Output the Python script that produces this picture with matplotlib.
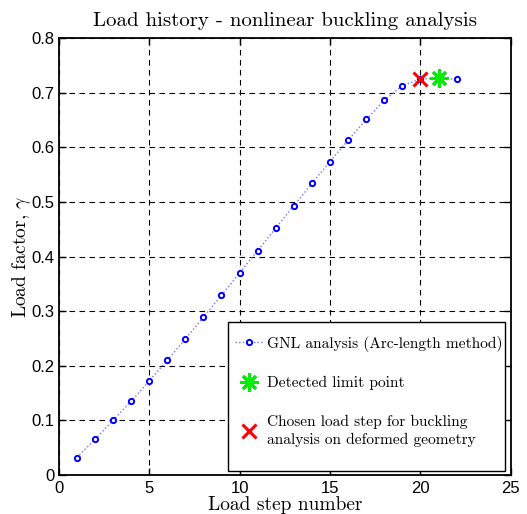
import numpy as np
import matplotlib
matplotlib.use('Agg')
import matplotlib.pyplot as plt
from matplotlib.patches import Rectangle

plt.rcParams['mathtext.fontset'] = 'cm'
plt.rcParams['axes.formatter.use_mathtext'] = True

# load steps and load factors
steps = [1, 2, 3, 4, 5, 6, 7, 8, 9, 10, 11, 12, 13, 14, 15, 16, 17, 18, 19, 20, 21, 22]
gamma = [0.032, 0.065, 0.100, 0.135, 0.172, 0.210, 0.249, 0.289, 0.329, 0.370,
         0.411, 0.452, 0.493, 0.534, 0.574, 0.613, 0.651, 0.686, 0.713, 0.725,
         0.726, 0.725]
limit_step = [21]
limit_gamma = [0.727]
chosen_step = [20]
chosen_gamma = [0.725]

serif = 'cmr10'
tickfont = 'Liberation Sans'

fig = plt.figure(figsize=(5.27, 5.14), dpi=100)
ax = fig.add_axes([0.1114, 0.0759, 0.858, 0.850])

ax.plot(steps, gamma, linestyle=':', color='#7070ff', lw=1.0,
        marker='o', markersize=3.8, markerfacecolor='white',
        markeredgecolor='#0000ff', markeredgewidth=1.4,
        label='GNL analysis (Arc-length method)')
ax.plot(limit_step, limit_gamma, linestyle='none', marker=(8, 2, 0),
        markersize=13, markeredgewidth=2.2, color='#00ee00',
        label='Detected limit point')
ax.plot(chosen_step, chosen_gamma, linestyle='none', marker='x',
        markersize=10, markeredgewidth=2.2, color='#ff0000',
        label='Chosen load step for buckling\nanalysis on deformed geometry')

ax.set_xlim(0, 25)
ax.set_ylim(0, 0.8)
ax.set_xticks([0, 5, 10, 15, 20, 25])
ax.set_yticks([0, 0.1, 0.2, 0.3, 0.4, 0.5, 0.6, 0.7, 0.8])
ax.set_xticklabels(['0', '5', '10', '15', '20', '25'], fontfamily=tickfont, fontsize=12)
ax.set_yticklabels(['0', '0.1', '0.2', '0.3', '0.4', '0.5', '0.6', '0.7', '0.8'],
                   fontfamily=tickfont, fontsize=12)
ax.tick_params(direction='in', length=5, width=1, top=True, right=True, pad=3)
ax.tick_params(axis='x', pad=4)
ax.grid(True, color='black', linestyle=(0, (5, 4)), linewidth=0.8)
for s in ax.spines.values():
    s.set_linewidth(1.3)

ax.set_title('Load history - nonlinear buckling analysis', fontfamily=serif,
             fontsize=15, pad=9)
ax.set_xlabel('Load step number', fontfamily=serif, fontsize=14, labelpad=0)
ax.set_ylabel(r'Load factor, $\gamma$', fontfamily=serif, fontsize=14, labelpad=-1)

# legend box drawn by hand (MATLAB-style padding)
box = Rectangle((0.374, 0.008), 0.613, 0.342, transform=ax.transAxes,
                facecolor='white', edgecolor='black', linewidth=1.0, zorder=4)
ax.add_patch(box)
leg = ax.legend(loc='upper left', bbox_to_anchor=(0.389, 0.319),
                borderaxespad=0, borderpad=0, frameon=False,
                prop={'family': serif, 'size': 11.1},
                labelspacing=1.6, handlelength=1.9, handletextpad=0.2)
leg.set_zorder(5)
for t in leg.get_texts():
    t.set_linespacing(1.35)

plt.savefig('out.png', dpi=100)
